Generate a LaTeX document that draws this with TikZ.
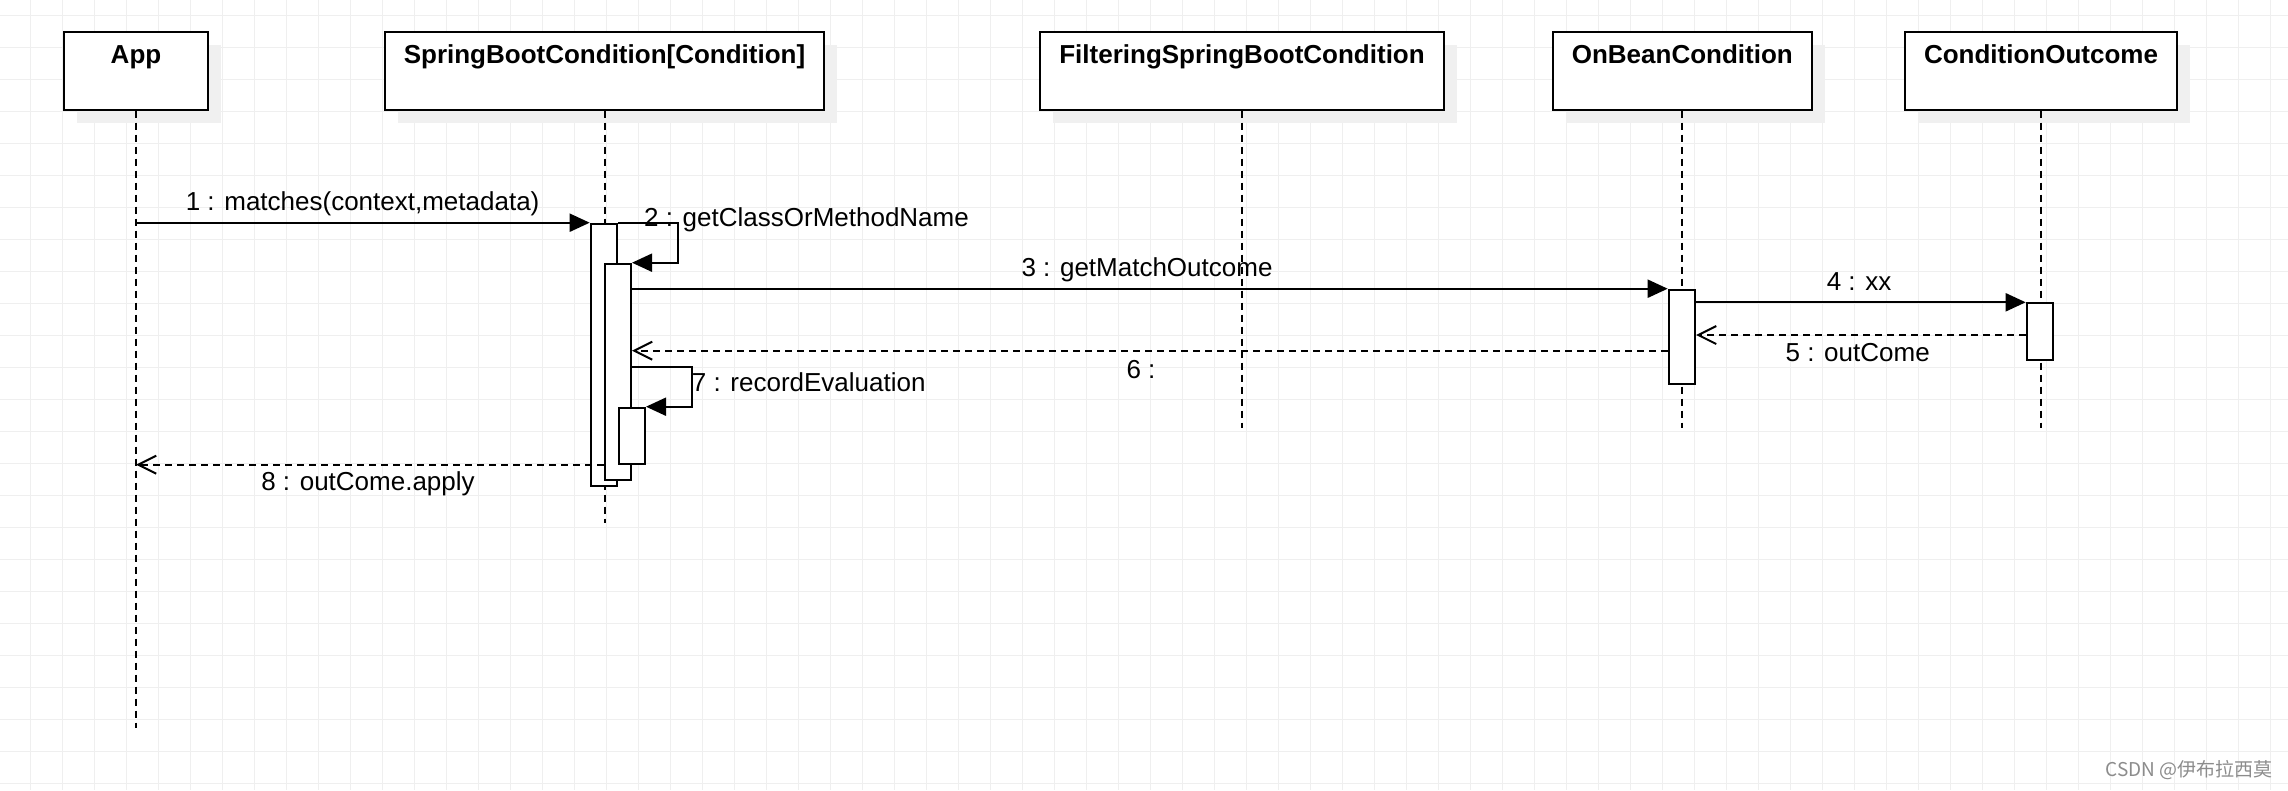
\documentclass[tikz,border=0pt]{standalone}
\usepackage{fontspec}
\setmainfont{Liberation Sans}
\newfontfamily\cjkfont{Noto Sans CJK SC}
\usetikzlibrary{arrows.meta}
\definecolor{gridc}{HTML}{EFEFEF}
\definecolor{shadowc}{HTML}{F0F0F0}
\definecolor{wmc}{HTML}{8C8C8C}
\begin{document}
\begin{tikzpicture}[x=1pt,y=-1pt,
  headbox/.style={draw=black, line width=2pt, fill=white, inner sep=0pt, anchor=north west, minimum height=78pt},
  shadowbox/.style={fill=shadowc, draw=none, inner sep=0pt, anchor=north west, minimum height=78pt},
  title/.style={anchor=base, font=\bfseries\fontsize{26}{30}\selectfont},
  lifeline/.style={line width=2pt, dash pattern=on 7pt off 5pt},
  actbox/.style={draw=black, line width=2pt, fill=white, inner sep=0pt, anchor=north west, minimum width=26.3pt},
  msg/.style={line width=2pt, -{Triangle[length=20pt,width=18pt]}},
  ret/.style={line width=2pt, dash pattern=on 6.5pt off 5.5pt, -{Straight Barb[length=18pt,width=18pt]}},
  lbl/.style={anchor=base, font=\fontsize{26}{30}\selectfont, inner sep=0pt},
  lbll/.style={anchor=base west, font=\fontsize{26}{30}\selectfont, inner sep=0pt}
]
\useasboundingbox (0,0) rectangle (2288,790);
\fill[white] (0,0) rectangle (2288,790);
% grid
\foreach \gx in {30.7,62.7,...,2290} \draw[gridc, line width=1pt] (\gx,0) -- (\gx,790);
\foreach \gy in {15.7,47.7,...,790} \draw[gridc, line width=1pt] (0,\gy) -- (2288,\gy);

% shadows
\node[shadowbox, minimum width=144pt] (appS) at (77,44.7) {};
\node[shadowbox, minimum width=439pt] (sbcS) at (398,44.7) {};
\node[shadowbox, minimum width=404pt] (fsbcS) at (1053,44.7) {};
\node[shadowbox, minimum width=259pt] (obcS) at (1565.8,44.7) {};
\node[shadowbox, minimum width=272pt] (coS) at (1918,44.7) {};

% header boxes
\node[headbox, minimum width=144pt] (app) at (63,30.7) {};
\node[headbox, minimum width=439pt] (sbc) at (384,30.7) {};
\node[headbox, minimum width=404pt] (fsbc) at (1039,30.7) {};
\node[headbox, minimum width=259pt] (obc) at (1551.8,30.7) {};
\node[headbox, minimum width=272pt] (co) at (1904,30.7) {};

\node[title] (tapp) at (app.north |- 0,63.3) {App};
\node[title] (tsbc) at (sbc.north |- 0,63.3) {SpringBootCondition[Condition]};
\node[title] (tfsbc) at (fsbc.north |- 0,63.3) {FilteringSpringBootCondition};
\node[title] (tobc) at (obc.north |- 0,63.3) {OnBeanCondition};
\node[title] (tco) at (co.north |- 0,63.3) {ConditionOutcome};

% lifelines
\coordinate (appEnd) at (app.south |- 0,728);
\coordinate (sbcEnd) at (sbc.south |- 0,522.7);
\coordinate (fsbcEnd) at (fsbc.south |- 0,428);
\coordinate (obcEnd) at (obc.south |- 0,428);
\coordinate (coEnd) at (co.south |- 0,428);
\draw[lifeline] (app.south) -- (appEnd);
\draw[lifeline] (sbc.south) -- (sbcEnd);
\draw[lifeline] (fsbc.south) -- (fsbcEnd);
\draw[lifeline] (obc.south) -- (obcEnd);
\draw[lifeline] (co.south) -- (coEnd);

% activations
\node[actbox, minimum height=262pt] (a1) at (589.7,222.7) {};
\node[actbox, minimum height=216pt] (a2) at (603.7,262.7) {};
\node[actbox, minimum height=56pt] (a3) at (617.7,406.7) {};
\node[actbox, minimum height=94.6pt] (ob) at (1667.7,288.7) {};
\node[actbox, minimum height=56.4pt] (ca) at (2025.7,302.3) {};

% messages
\draw[msg] (app.south |- a1.north west) -- (a1.north west);
\draw[msg] (a1.north east) -- ++(60,0) |- (a2.north east);
\draw[msg] (a2.east |- ob.north west) -- (ob.north west);
\draw[msg] (ob.east |- ca.north west) -- (ca.north west);
\coordinate (r5) at (ca.west |- 0,335);
\draw[ret] (r5) -- (ob.east |- r5);
\coordinate (r6) at (ob.west |- 0,350.7);
\draw[ret] (r6) -- (a2.east |- r6);
\coordinate (s7) at (a2.east |- 0,366.7);
\draw[msg] (s7) -- ++(60,0) |- (a3.north east);
\draw[ret] (a2.west |- a3.south) -- (app.south |- a3.south);

% labels
\node[lbl] (l1) at (362.6,210.7) {1 : matches(context,metadata)};
\node[lbll] (l2) at (644,226.7) {2 : getClassOrMethodName};
\node[lbl] (l3) at (1147,276) {3 : getMatchOutcome};
\node[lbl] (l4) at (1859,290) {4 : xx};
\node[lbl] (l5) at (1857.7,361.7) {5 : outCome};
\node[lbl] (l6) at (1141,378.5) {6 :};
\node[lbll] (l7) at (691.7,391.7) {7 : recordEvaluation};
\node[lbl] (l8) at (368,490) {8 : outCome.apply};

% watermark
\node[anchor=base east, inner sep=0pt, text=wmc, font=\cjkfont\fontsize{19}{22}\selectfont] (wm) at (2272.7,776.7) {CSDN @伊布拉西莫};
\end{tikzpicture}
\end{document}
